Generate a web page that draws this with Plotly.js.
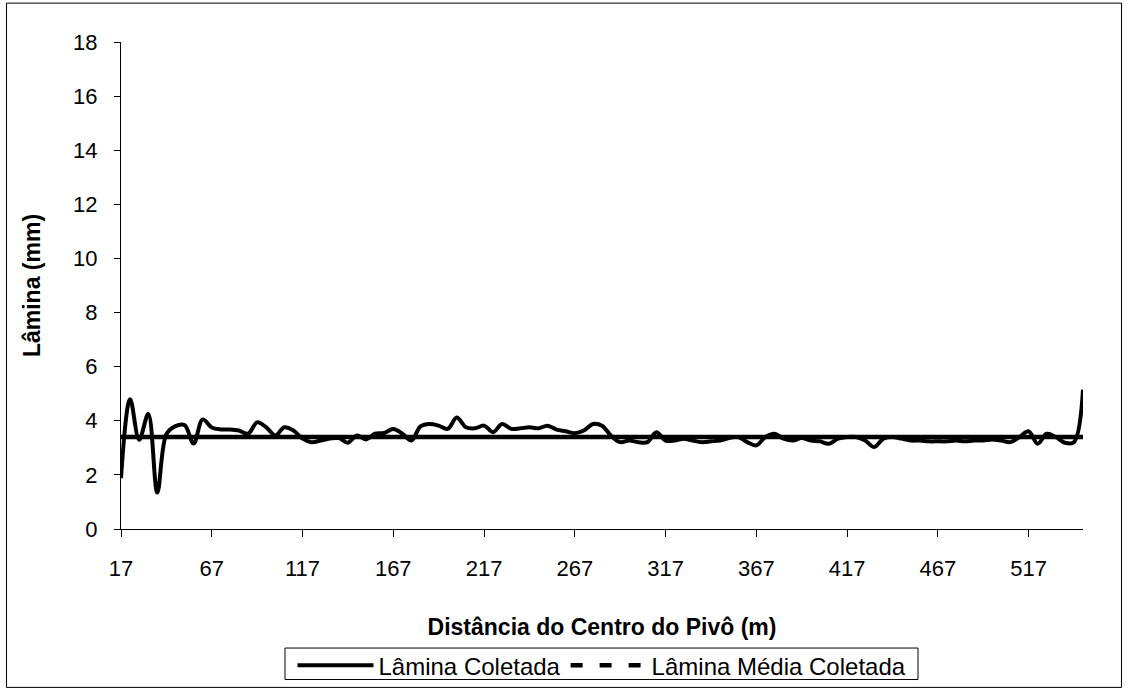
<!DOCTYPE html>
<html>
<head>
<meta charset="utf-8">
<script src="https://cdn.plot.ly/plotly-3.0.1.min.js"></script>
<style>
html,body{margin:0;padding:0;background:#fff;}
#chart{width:1127px;height:700px;}
</style>
</head>
<body>
<div id="chart"></div>
<script>
// Distance from pivot centre (m), every 5 m from 17 to 547
const distancias = [17,22,27,32,37,42,47,52,57,62,67,72,77,82,87,92,97,102,107,112,117,122,127,132,137,142,147,152,157,162,167,172,177,182,187,192,197,202,207,212,217,222,227,232,237,242,247,252,257,262,267,272,277,282,287,292,297,302,307,312,317,322,327,332,337,342,347,352,357,362,367,372,377,382,387,392,397,402,407,412,417,422,427,432,437,442,447,452,457,462,467,472,477,482,487,492,497,502,507,512,517,522,527,532,537,542,547];
const laminaColetada = [1.88,4.8,3.3,4.25,1.35,3.5,3.8,3.84,3.16,4.05,3.75,3.68,3.68,3.64,3.52,3.94,3.76,3.46,3.76,3.64,3.34,3.21,3.27,3.34,3.36,3.19,3.46,3.31,3.52,3.55,3.7,3.52,3.27,3.79,3.88,3.82,3.7,4.12,3.76,3.72,3.82,3.58,3.88,3.7,3.72,3.76,3.72,3.82,3.67,3.61,3.54,3.64,3.88,3.82,3.45,3.21,3.27,3.21,3.21,3.58,3.27,3.27,3.34,3.27,3.21,3.24,3.27,3.36,3.4,3.21,3.09,3.4,3.52,3.34,3.27,3.36,3.27,3.24,3.15,3.34,3.4,3.4,3.27,3.03,3.34,3.4,3.34,3.27,3.27,3.24,3.24,3.24,3.27,3.24,3.27,3.27,3.31,3.27,3.21,3.4,3.61,3.15,3.52,3.4,3.19,3.21,5.15];
const laminaMedia = 3.4;
const tickDistancias = [17,67,117,167,217,267,317,367,417,467,517];
const yTicks = [0,2,4,6,8,10,12,14,16,18];

const mediaArr = distancias.map(() => laminaMedia);
const font = {family: 'Liberation Sans, Arial, sans-serif', color: '#000'};
const f = s => Object.assign({size: s}, font);

const traces = [
  {x: distancias, y: laminaColetada, type: 'scatter', mode: 'lines', name: 'Lâmina Coletada',
   line: {color: '#000', width: 4, shape: 'spline', smoothing: 1}},
  {x: distancias, y: mediaArr, type: 'scatter', mode: 'lines', name: 'Lâmina Média Coletada',
   showlegend: false, line: {color: '#000', width: 4.5}},
  {x: [null], y: [null], type: 'scatter', mode: 'lines', name: 'Lâmina Média Coletada',
   line: {color: '#000', width: 4.5, dash: '12px,17px'}}
];

const M = {l: 121, r: 44, t: 42, b: 163};
const W = 1127, H = 700;
const pw = W - M.l - M.r, ph = H - M.t - M.b;
const px = v => (v - M.l) / pw;
const py = v => (H - M.b - v) / ph;

const layout = {
  width: W, height: H, margin: M,
  paper_bgcolor: '#fff', plot_bgcolor: '#fff',
  font: f(22),
  showlegend: true,
  xaxis: {
    range: [17, 547], tickvals: tickDistancias, ticktext: tickDistancias.map(String),
    showgrid: false, zeroline: false, showline: true, linecolor: '#000', linewidth: 1,
    ticks: 'outside', ticklen: 7, tickcolor: '#000', tickwidth: 1,
    tickfont: f(22), ticklabelstandoff: 13,
    title: {text: '<b>Distância do Centro do Pivô (m)</b>', font: f(23), standoff: 38}
  },
  yaxis: {
    range: [0, 18], tickvals: yTicks, showgrid: false, zeroline: false,
    showline: true, linecolor: '#000', linewidth: 1,
    ticks: 'outside', ticklen: 6, tickcolor: '#000', tickwidth: 1,
    tickfont: f(22), ticklabelstandoff: 12,
    title: {text: '<b>Lâmina (mm)</b>', font: f(23), standoff: 26}
  },
  legend: {
    orientation: 'h', x: 0.5, xanchor: 'center', y: py(653), yanchor: 'top',
    borderwidth: 0, bgcolor: 'rgba(0,0,0,0)',
    font: f(24), itemwidth: 76, tracegroupgap: 0
  },
  shapes: [
    {type: 'rect', xref: 'paper', yref: 'paper',
     x0: px(6.5), x1: px(1121.5), y0: py(698), y1: py(2.5),
     line: {color: '#000', width: 1}, fillcolor: 'rgba(0,0,0,0)', layer: 'below'},
    {type: 'rect', xref: 'paper', yref: 'paper',
     x0: px(285), x1: px(918), y0: py(690), y1: py(658),
     line: {color: '#000', width: 1}, fillcolor: 'rgba(0,0,0,0)', layer: 'below'}
  ]
};

Plotly.newPlot('chart', traces, layout, {displayModeBar: false, staticPlot: true});
</script>
</body>
</html>
